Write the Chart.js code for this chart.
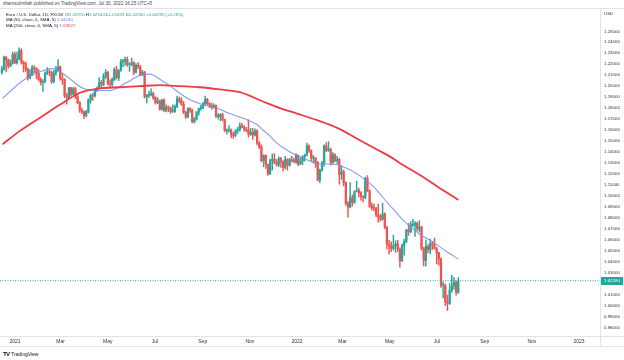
<!DOCTYPE html>
<html>
<head>
<meta charset="utf-8">
<script src="https://cdn.jsdelivr.net/npm/chart.js@4.4.1/dist/chart.umd.min.js"></script>
<style>
    html, body { margin: 0; padding: 0; background: #fff; width: 624px; height: 360px; overflow: hidden; }
    body { font-family: "Liberation Sans", Arial, sans-serif; }
    #wrap { position: relative; width: 624px; height: 360px; }
    #chart { position: absolute; left: 0; top: 9px; }
    .t { position: absolute; white-space: nowrap; line-height: 1; color: #131722; }
    .g { color: #26a69a; }
    #hdr { left: 3px; top: 2px; font-size: 4.6px; color: #434651; }
    #topline { position: absolute; left: 0; top: 8px; width: 624px; height: 1px; background: #e0e3eb; }
    #leg1 { left: 6px; top: 12.6px; font-size: 4.4px; }
    #leg2 { left: 6px; top: 18.4px; font-size: 4.4px; }
    #leg3 { left: 6px; top: 24.3px; font-size: 4.4px; }
    #usd { left: 604px; top: 12px; font-size: 4.4px; color: #333; }
    #logo { left: 3px; top: 350.5px; font-size: 5px; color: #131722; }
    #logo b { font-size: 6px; letter-spacing: -0.6px; margin-right: 1.5px; }
</style>
</head>
<body>
<div id="wrap">
    <div id="topline"></div>
    <canvas id="chart" width="624" height="338"></canvas>
    <div class="t" id="hdr">shamsulzshah published on TradingView.com, Jul 30, 2022 16:25 UTC+5</div>
    <div class="t" id="leg1">Euro / U.S. Dollar, 1D, FXCM &nbsp;O<span class="g">1.01970</span> H<span class="g">1.02544</span> L<span class="g">1.01459</span> C<span class="g">1.02260</span> <span class="g">+0.00290 (+0.28%)</span></div>
    <div class="t" id="leg2">MA (50, close, 0, SMA, 5) <span style="color:#5d80f5">1.04240</span></div>
    <div class="t" id="leg3">MA (200, close, 0, SMA, 5) <span style="color:#f23645">1.09627</span></div>
    <div class="t" id="usd">USD</div>
    <div class="t" id="logo"><b>TV</b>TradingView</div>
</div>
<script>
// ---- Data (EUR/USD, one candle per ~2 trading days) -----------------------
const candleOpen = [
    1.2125,1.2155,1.2265,1.2240,1.2185,1.2210,1.2290,1.2215,1.2250,1.2325,
    1.2220,1.2205,1.2155,1.2075,1.2105,1.2170,1.2160,1.2115,1.2060,1.2035,
    1.2045,1.2120,1.2130,1.2125,1.2040,1.2120,1.2150,1.2175,1.2070,1.2060,
    1.1915,1.1900,1.1985,1.1930,1.1975,1.1905,1.1850,1.1780,1.1765,1.1730,
    1.1765,1.1875,1.1915,1.1910,1.1965,1.1980,1.2035,1.2015,1.2090,1.2125,
    1.2020,1.2015,1.2060,1.2150,1.2075,1.2145,1.2225,1.2225,1.2245,1.2195,
    1.2195,1.2215,1.2125,1.2190,1.2175,1.2105,1.2125,1.1905,1.1915,1.1925,
    1.1935,1.1895,1.1850,1.1865,1.1790,1.1875,1.1775,1.1810,1.1800,1.1770,
    1.1770,1.1815,1.1885,1.1870,1.1835,1.1760,1.1720,1.1795,1.1780,1.1675,
    1.1700,1.1760,1.1795,1.1805,1.1840,1.1880,1.1840,1.1825,1.1810,1.1820,
    1.1725,1.1725,1.1740,1.1695,1.1595,1.1595,1.1600,1.1555,1.1550,1.1595,
    1.1600,1.1640,1.1625,1.1605,1.1600,1.1560,1.1580,1.1555,1.1590,1.1480,
    1.1445,1.1320,1.1370,1.1285,1.1200,1.1320,1.1335,1.1305,1.1285,1.1340,
    1.1315,1.1260,1.1330,1.1280,1.1330,1.1320,1.1310,1.1370,1.1290,1.1315,
    1.1360,1.1370,1.1455,1.1410,1.1345,1.1345,1.1305,1.1145,1.1235,1.1300,
    1.1455,1.1415,1.1425,1.1305,1.1375,1.1320,1.1330,1.1195,1.1220,1.1120,
    1.0930,1.0900,1.0985,1.0940,1.1040,1.1050,1.1030,1.0995,1.0985,1.1160,
    1.1045,1.0905,1.0890,1.0885,1.0825,1.0810,1.0785,1.0835,1.0715,1.0560,
    1.0545,1.0520,1.0545,1.0560,1.0515,1.0410,1.0550,1.0585,1.0690,1.0675,
    1.0735,1.0735,1.0750,1.0700,1.0715,1.0520,1.0410,1.0540,1.0510,1.0565,
    1.0555,1.0520,1.0480,1.0425,1.0185,1.0185,1.0035,1.0020,1.0140,1.0180,
    1.0210,1.0120
];
const candleHigh = [
    1.2180,1.2275,1.2270,1.2250,1.2240,1.2310,1.2310,1.2310,1.2349,1.2340,
    1.2230,1.2220,1.2165,1.2150,1.2190,1.2185,1.2170,1.2150,1.2075,1.2060,
    1.2130,1.2170,1.2150,1.2135,1.2145,1.2180,1.2243,1.2185,1.2110,1.2070,
    1.1935,1.1990,1.1990,1.1990,1.1990,1.1935,1.1860,1.1800,1.1775,1.1780,
    1.1885,1.1925,1.1935,1.1975,1.1995,1.2079,1.2050,1.2115,1.2150,1.2135,
    1.2060,1.2075,1.2170,1.2180,1.2150,1.2245,1.2245,1.2265,1.2265,1.2215,
    1.2255,1.2225,1.2205,1.2215,1.2190,1.2145,1.2135,1.1925,1.1955,1.1975,
    1.1945,1.1905,1.1895,1.1875,1.1880,1.1885,1.1830,1.1820,1.1810,1.1830,
    1.1830,1.1910,1.1900,1.1895,1.1860,1.1770,1.1805,1.1805,1.1790,1.1715,
    1.1770,1.1800,1.1825,1.1855,1.1909,1.1890,1.1850,1.1845,1.1840,1.1830,
    1.1750,1.1750,1.1755,1.1700,1.1610,1.1640,1.1610,1.1580,1.1605,1.1625,
    1.1665,1.1660,1.1640,1.1625,1.1692,1.1615,1.1615,1.1610,1.1605,1.1495,
    1.1465,1.1375,1.1375,1.1290,1.1335,1.1380,1.1385,1.1330,1.1355,1.1350,
    1.1320,1.1360,1.1340,1.1345,1.1360,1.1345,1.1385,1.1375,1.1345,1.1365,
    1.1380,1.1482,1.1465,1.1420,1.1370,1.1350,1.1315,1.1245,1.1315,1.1465,
    1.1485,1.1495,1.1435,1.1395,1.1385,1.1360,1.1345,1.1275,1.1235,1.1125,
    1.0950,1.1120,1.1010,1.1045,1.1135,1.1070,1.1040,1.1000,1.1170,1.1185,
    1.1055,1.0935,1.0925,1.0895,1.0925,1.0830,1.0935,1.0845,1.0720,1.0595,
    1.0580,1.0642,1.0590,1.0595,1.0525,1.0560,1.0605,1.0695,1.0750,1.0765,
    1.0787,1.0765,1.0760,1.0775,1.0725,1.0530,1.0600,1.0555,1.0605,1.0585,
    1.0615,1.0530,1.0485,1.0435,1.0215,1.0195,1.0095,1.0200,1.0275,1.0255,
    1.0225,1.0255
];
const candleLow = [
    1.2110,1.2145,1.2130,1.2165,1.2175,1.2200,1.2205,1.2200,1.2240,1.2200,
    1.2130,1.2135,1.2055,1.2065,1.2095,1.2120,1.2065,1.2045,1.2010,1.1952,
    1.2030,1.2105,1.2095,1.2025,1.2030,1.2100,1.2135,1.2055,1.2015,1.1895,
    1.1835,1.1885,1.1910,1.1915,1.1885,1.1840,1.1760,1.1750,1.1704,1.1720,
    1.1755,1.1845,1.1870,1.1900,1.1950,1.1975,1.1995,1.2005,1.2070,1.2010,
    1.1985,1.2000,1.2050,1.2065,1.2050,1.2135,1.2175,1.2190,1.2180,1.2135,
    1.2185,1.2105,1.2120,1.2160,1.2095,1.2095,1.1890,1.1847,1.1895,1.1910,
    1.1880,1.1835,1.1840,1.1780,1.1780,1.1770,1.1765,1.1765,1.1752,1.1760,
    1.1760,1.1805,1.1850,1.1825,1.1750,1.1705,1.1710,1.1760,1.1665,1.1664,
    1.1690,1.1735,1.1780,1.1795,1.1830,1.1830,1.1805,1.1790,1.1800,1.1715,
    1.1700,1.1685,1.1680,1.1585,1.1563,1.1580,1.1530,1.1524,1.1540,1.1570,
    1.1590,1.1620,1.1590,1.1585,1.1535,1.1550,1.1515,1.1545,1.1465,1.1430,
    1.1310,1.1265,1.1250,1.1186,1.1195,1.1235,1.1290,1.1270,1.1265,1.1260,
    1.1225,1.1245,1.1235,1.1270,1.1310,1.1300,1.1295,1.1275,1.1285,1.1285,
    1.1315,1.1365,1.1395,1.1320,1.1300,1.1260,1.1135,1.1121,1.1225,1.1270,
    1.1400,1.1405,1.1280,1.1290,1.1310,1.1290,1.1106,1.1150,1.1090,1.0915,
    1.0806,1.0890,1.0905,1.0930,1.1035,1.0990,1.0960,1.0945,1.0975,1.1035,
    1.0895,1.0870,1.0860,1.0810,1.0760,1.0770,1.0780,1.0700,1.0515,1.0470,
    1.0490,1.0505,1.0485,1.0490,1.0350,1.0400,1.0460,1.0570,1.0640,1.0665,
    1.0720,1.0630,1.0680,1.0670,1.0505,1.0360,1.0358,1.0480,1.0470,1.0510,
    1.0515,1.0380,1.0365,1.0165,1.0070,1.0000,0.9952,1.0010,1.0120,1.0150,
    1.0095,1.0110
];
const candleClose = [
    1.2155,1.2265,1.2240,1.2185,1.2210,1.2290,1.2215,1.2250,1.2325,1.2220,
    1.2205,1.2155,1.2075,1.2105,1.2170,1.2160,1.2115,1.2060,1.2035,1.2045,
    1.2120,1.2130,1.2125,1.2040,1.2120,1.2150,1.2175,1.2070,1.2060,1.1915,
    1.1900,1.1985,1.1930,1.1975,1.1905,1.1850,1.1780,1.1765,1.1730,1.1765,
    1.1875,1.1915,1.1910,1.1965,1.1980,1.2035,1.2015,1.2090,1.2125,1.2020,
    1.2015,1.2060,1.2150,1.2075,1.2145,1.2225,1.2225,1.2245,1.2195,1.2195,
    1.2215,1.2125,1.2190,1.2175,1.2105,1.2125,1.1905,1.1915,1.1925,1.1935,
    1.1895,1.1850,1.1865,1.1790,1.1875,1.1775,1.1810,1.1800,1.1770,1.1770,
    1.1815,1.1885,1.1870,1.1835,1.1760,1.1720,1.1795,1.1780,1.1675,1.1700,
    1.1760,1.1795,1.1805,1.1840,1.1880,1.1840,1.1825,1.1810,1.1820,1.1725,
    1.1725,1.1740,1.1695,1.1595,1.1595,1.1600,1.1555,1.1550,1.1595,1.1600,
    1.1640,1.1625,1.1605,1.1600,1.1560,1.1580,1.1555,1.1590,1.1480,1.1445,
    1.1320,1.1370,1.1285,1.1200,1.1320,1.1335,1.1305,1.1285,1.1340,1.1315,
    1.1260,1.1330,1.1280,1.1330,1.1320,1.1310,1.1370,1.1290,1.1315,1.1360,
    1.1370,1.1455,1.1410,1.1345,1.1345,1.1305,1.1145,1.1235,1.1300,1.1455,
    1.1415,1.1425,1.1305,1.1375,1.1320,1.1330,1.1195,1.1220,1.1120,1.0930,
    1.0900,1.0985,1.0940,1.1040,1.1050,1.1030,1.0995,1.0985,1.1160,1.1045,
    1.0905,1.0890,1.0885,1.0825,1.0810,1.0785,1.0835,1.0715,1.0560,1.0545,
    1.0520,1.0545,1.0560,1.0515,1.0410,1.0550,1.0585,1.0690,1.0675,1.0735,
    1.0735,1.0750,1.0700,1.0715,1.0520,1.0410,1.0540,1.0510,1.0565,1.0555,
    1.0520,1.0480,1.0425,1.0185,1.0185,1.0035,1.0020,1.0140,1.0180,1.0210,
    1.0120,1.0226
];

// Moving averages (day = calendar days since 1 Jan 2021)
const ma50Days = [-16,10,36,49,65,88,106,123,145,162,175,188,201,223,243,261,278,298,313,321,
                  330,339,356,378,392,408,430,447,463,483,492,505,524,541,559,574];
const ma50Values = [1.189,1.205,1.214,1.216,1.210,1.198,1.196,1.196,1.2035,1.210,1.211,1.206,1.200,1.189,1.183,1.180,1.175,1.170,1.165,1.160,
                    1.1545,1.148,1.140,1.133,1.129,1.129,1.125,1.118,1.109,1.093,1.086,1.076,1.065,1.058,1.049,1.0424];
const ma200Days = [-16,6,32,58,84,110,136,162,188,214,239,265,291,321,343,365,391,417,443,469,485,498,524,550,574];
const ma200Values = [1.147,1.159,1.171,1.183,1.194,1.198,1.199,1.200,1.2009,1.200,1.199,1.197,1.1945,1.186,1.180,
                     1.175,1.169,1.162,1.152,1.142,1.136,1.130,1.119,1.107,1.0963];

const monthTickDays = [0,59,120,181,243,304,365,424,485,546,608,669,730];
const monthTickLabels = ["2021","Mar","May","Jul","Sep","Nov","2022","Mar","May","Jul","Sep","Nov","2023"];
const priceTicks = [0.98,0.99,1.00,1.01,1.02,1.03,1.04,1.05,1.06,1.07,1.08,1.09,1.10,1.11,1.12,
                    1.13,1.14,1.15,1.16,1.17,1.18,1.19,1.20,1.21,1.22,1.23,1.24,1.25];
const lastPrice = 1.0226;

// ---- Layout constants ----------------------------------------------------
const CANDLE_START = -17;   // first candle, mid Dec 2020
const CANDLE_STEP = 2.8;    // calendar days per candle
const X_MIN = -19.4, X_MAX = 757.2;
const Y_MIN = 0.97222, Y_MAX = 1.26429;
const UP = "#26a69a", DOWN = "#ef5350";
const FONT = "'Liberation Sans', Arial, sans-serif";

const candleDay = (i) => CANDLE_START + i * CANDLE_STEP;
const candleColors = candleClose.map((c, i) => (c >= candleOpen[i] ? UP : DOWN));

// Frame lines + last price tag
const framePlugin = {
    id: "frame",
    afterDraw(chart) {
        const { ctx, chartArea: a } = chart;
        const y = chart.scales.y;
        ctx.save();
        ctx.strokeStyle = "#e0e3eb";
        ctx.lineWidth = 1;
        ctx.beginPath();
        ctx.moveTo(a.right + 0.5, 0); ctx.lineTo(a.right + 0.5, chart.height);
        ctx.moveTo(0, a.bottom + 0.5); ctx.lineTo(chart.width, a.bottom + 0.5);
        ctx.moveTo(0, chart.height - 0.5); ctx.lineTo(chart.width, chart.height - 0.5);
        ctx.stroke();

        const py = y.getPixelForValue(lastPrice);
        ctx.fillStyle = UP;
        ctx.fillRect(a.right + 1, Math.round(py) - 4, 22, 8);
        ctx.fillStyle = "#fff";
        ctx.font = "4.4px " + FONT;
        ctx.textBaseline = "middle";
        ctx.fillText(lastPrice.toFixed(5), a.right + 4, Math.round(py));
        ctx.restore();
    },
};

new Chart(document.getElementById("chart"), {
    type: "bar",
    data: {
        datasets: [
            {
                type: "line",
                data: ma200Days.map((d, i) => ({ x: d, y: ma200Values[i] })),
                borderColor: "#ec3b44",
                borderWidth: 1.8,
                pointRadius: 0,
                cubicInterpolationMode: "monotone",
                order: 0,
            },
            {
                type: "line",
                data: ma50Days.map((d, i) => ({ x: d, y: ma50Values[i] })),
                borderColor: "rgba(110,140,240,0.85)",
                borderWidth: 1.1,
                pointRadius: 0,
                cubicInterpolationMode: "monotone",
                order: 1,
            },
            {
                type: "line",
                data: [{ x: X_MIN, y: lastPrice }, { x: X_MAX, y: lastPrice }],
                borderColor: UP,
                borderWidth: 1,
                borderDash: [1, 1.5],
                pointRadius: 0,
                order: 2,
            },
            {
                data: candleOpen.map((o, i) => ({ x: candleDay(i), y: [o, candleClose[i]] })),
                backgroundColor: candleColors,
                barThickness: 1.6,
                minBarLength: 0.8,
                grouped: false,
                order: 3,
            },
            {
                data: candleHigh.map((h, i) => ({ x: candleDay(i), y: [candleLow[i], h] })),
                backgroundColor: candleColors,
                barThickness: 0.8,
                grouped: false,
                order: 4,
            },
        ],
    },
    options: {
        responsive: false,
        animation: false,
        devicePixelRatio: 1,
        layout: { padding: 0 },
        plugins: { legend: { display: false }, tooltip: { enabled: false } },
        scales: {
            x: {
                type: "linear",
                min: X_MIN,
                max: X_MAX,
                offset: false,
                grid: { display: false, drawTicks: false },
                border: { display: false },
                afterBuildTicks(s) { s.ticks = monthTickDays.map((v) => ({ value: v })); },
                afterFit(s) { s.height = 11; },
                ticks: {
                    autoSkip: false,
                    maxRotation: 0,
                    padding: 3,
                    color: "#333",
                    font: { size: 5, family: FONT },
                    callback: (v, i) => monthTickLabels[i],
                },
            },
            y: {
                position: "right",
                min: Y_MIN,
                max: Y_MAX,
                grid: { display: false, drawTicks: false },
                border: { display: false },
                afterBuildTicks(s) { s.ticks = priceTicks.map((v) => ({ value: v })); },
                afterFit(s) { s.width = 24; },
                ticks: {
                    autoSkip: false,
                    padding: 4,
                    color: "#333",
                    font: { size: 4.4, family: FONT },
                    callback: (v) => Number(v).toFixed(5),
                },
            },
        },
    },
    plugins: [framePlugin],
});
</script>
</body>
</html>
